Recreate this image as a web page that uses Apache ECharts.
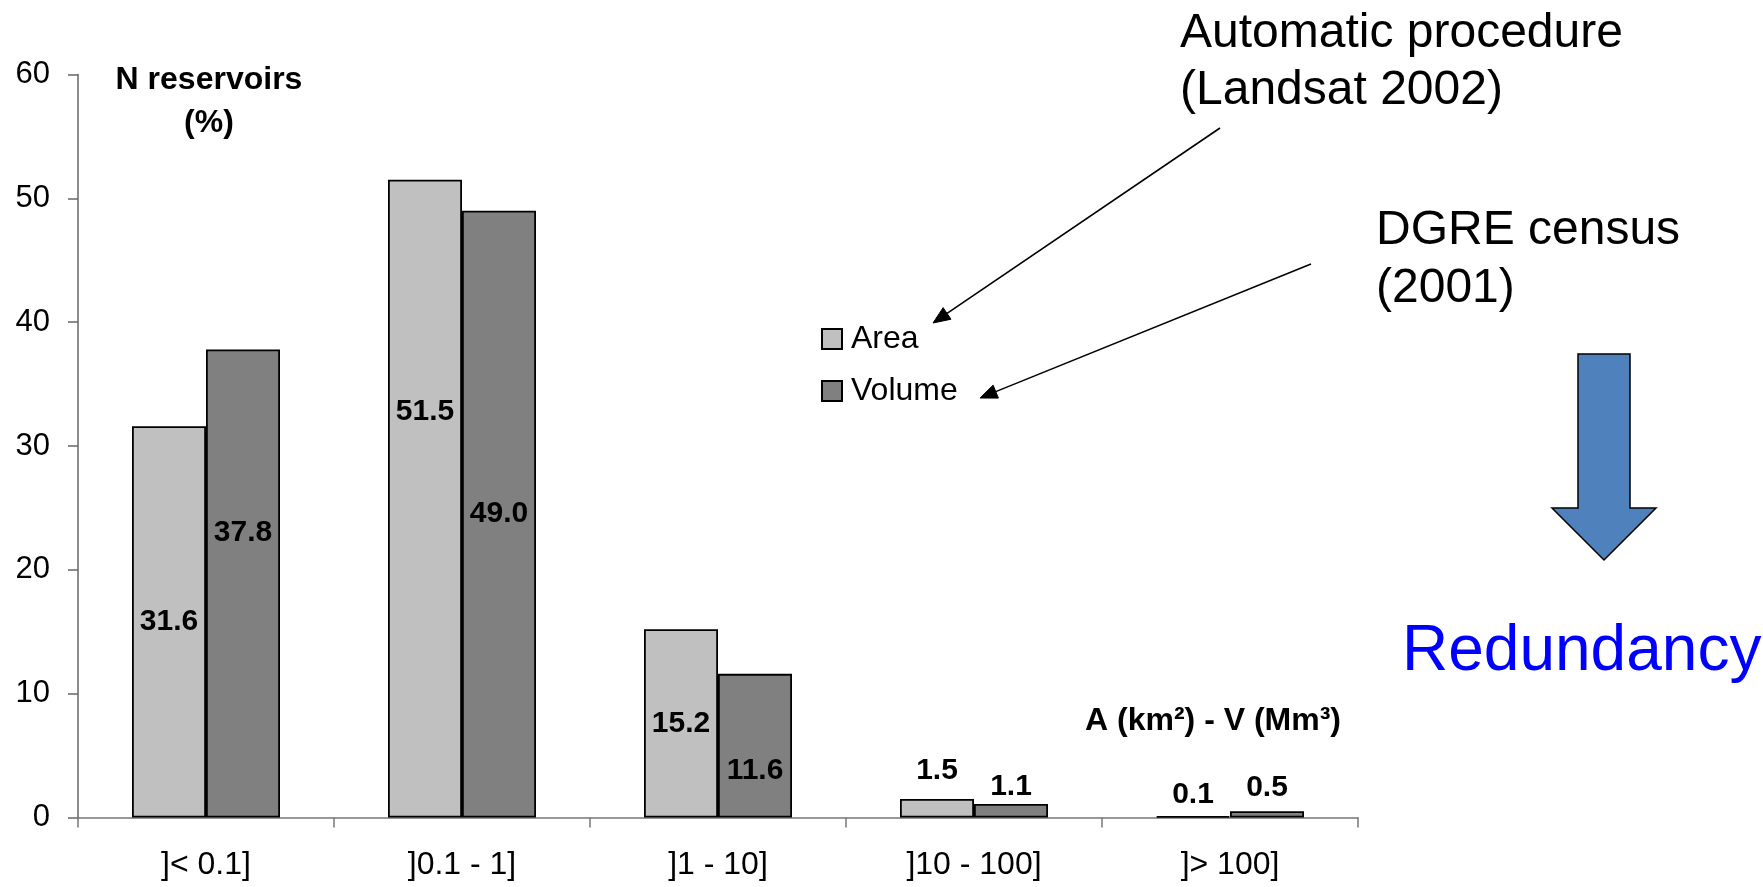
<!DOCTYPE html>
<html>
<head>
<meta charset="utf-8">
<script src="https://cdn.jsdelivr.net/npm/echarts@6/dist/echarts.min.js"></script>
<style>
  html, body { margin: 0; padding: 0; background: #fff; }
  #chart { width: 1763px; height: 887px; }
</style>
</head>
<body>
<div id="chart"></div>
<script>
// ---- data ----
const categories = [']< 0.1]', ']0.1 - 1]', ']1 - 10]', ']10 - 100]', ']> 100]'];
const areaValues = [31.6, 51.5, 15.2, 1.5, 0.1];
const volumeValues = [37.8, 49.0, 11.6, 1.1, 0.5];
const seriesNames = ['Area', 'Volume'];
const yMin = 0, yMax = 60, yStep = 10;

// ---- label placement (style only) ----
const areaLabelPlace = [
  { position: 'inside', offset: [0, 0] },
  { position: 'inside', offset: [0, -87] },
  { position: 'inside', offset: [0, 0] },
  { position: 'top', distance: 13 },
  { position: 'top', distance: 6 }
];
const volumeLabelPlace = [
  { position: 'inside', offset: [0, -51] },
  { position: 'inside', offset: [0, 0] },
  { position: 'inside', offset: [0, 25] },
  { position: 'top', distance: 2 },
  { position: 'top', distance: 9 }
];

const FONT = "'Liberation Sans', Arial, Helvetica, sans-serif";

function buildData(values, places) {
  return values.map((v, i) => ({ value: v, label: places[i] }));
}

function arrowGraphics(x1, y1, x2, y2, headLen, headHalf) {
  const dx = x2 - x1, dy = y2 - y1;
  const len = Math.sqrt(dx * dx + dy * dy);
  const ux = dx / len, uy = dy / len;
  const bx = x2 - ux * headLen, by = y2 - uy * headLen;
  const nx = -uy, ny = ux;
  return [
    { type: 'line', shape: { x1: x1, y1: y1, x2: bx, y2: by }, style: { stroke: '#000', lineWidth: 1.6 } },
    { type: 'polygon', shape: { points: [[x2, y2], [bx + nx * headHalf, by + ny * headHalf], [bx - nx * headHalf, by - ny * headHalf]] },
      style: { fill: '#000', stroke: '#000', lineWidth: 1 } }
  ];
}

const labelStyle = { show: true, color: '#000', fontFamily: FONT, fontWeight: 'bold', fontSize: 30, lineHeight: 30,
  formatter: p => Number(p.value).toFixed(1) };

const chart = echarts.init(document.getElementById('chart'), null, { renderer: 'canvas' });

const graphics = [
  { type: 'text', x: 209, y: 80, style: { text: 'N reservoirs', font: 'bold 32px ' + FONT, fill: '#000', textAlign: 'center', textVerticalAlign: 'middle' } },
  { type: 'text', x: 209, y: 123, style: { text: '(%)', font: 'bold 32px ' + FONT, fill: '#000', textAlign: 'center', textVerticalAlign: 'middle' } },
  { type: 'text', x: 1341, y: 721, style: { text: 'A (km²) - V (Mm³)', font: 'bold 32px ' + FONT, fill: '#000', textAlign: 'right', textVerticalAlign: 'middle' } },
  { type: 'text', x: 1180, y: 34, style: { text: 'Automatic procedure', font: '48px ' + FONT, fill: '#000', textAlign: 'left', textVerticalAlign: 'middle' } },
  { type: 'text', x: 1180, y: 91, style: { text: '(Landsat 2002)', font: '48px ' + FONT, fill: '#000', textAlign: 'left', textVerticalAlign: 'middle' } },
  { type: 'text', x: 1376, y: 231, style: { text: 'DGRE census', font: '48px ' + FONT, fill: '#000', textAlign: 'left', textVerticalAlign: 'middle' } },
  { type: 'text', x: 1376, y: 289, style: { text: '(2001)', font: '48px ' + FONT, fill: '#000', textAlign: 'left', textVerticalAlign: 'middle' } },
  { type: 'text', x: 1402, y: 652, style: { text: 'Redundancy', font: '64px ' + FONT, fill: '#0000ff', textAlign: 'left', textVerticalAlign: 'middle' } },
  { type: 'polygon', shape: { points: [[1578, 354], [1630, 354], [1630, 508], [1656, 508], [1604, 560], [1552, 508], [1578, 508]] },
    style: { fill: '#4f81bd', stroke: '#000', lineWidth: 1.5 } }
].concat(arrowGraphics(1220, 128, 933, 323, 17, 7))
 .concat(arrowGraphics(1311, 264, 980, 398, 17, 7));

const option = {
  animation: false,
  backgroundColor: '#ffffff',
  grid: { left: 78, right: 405, top: 74.5, bottom: 69.5, containLabel: false },
  legend: {
    data: seriesNames,
    orient: 'vertical',
    left: 821, top: 323,
    padding: 0,
    itemWidth: 20, itemHeight: 20, itemGap: 20,
    icon: 'rect',
    selectedMode: false,
    textStyle: { color: '#000', fontFamily: FONT, fontSize: 32, padding: [0, 0, 0, 4] }
  },
  xAxis: {
    type: 'category',
    data: categories,
    axisLine: { lineStyle: { color: '#777', width: 1.5 } },
    axisTick: { show: true, length: 10, inside: false, lineStyle: { color: '#777', width: 1.5 } },
    axisLabel: { color: '#000', fontFamily: FONT, fontSize: 32, margin: 32, interval: 0 },
    splitLine: { show: false }
  },
  yAxis: {
    type: 'value',
    min: yMin, max: yMax, interval: yStep,
    axisLine: { show: true, lineStyle: { color: '#666', width: 1.5 } },
    axisTick: { show: true, length: 10, lineStyle: { color: '#666', width: 1.5 } },
    axisLabel: { color: '#000', fontFamily: FONT, fontSize: 31, margin: 28 },
    splitLine: { show: false }
  },
  series: [
    {
      name: seriesNames[0], type: 'bar', barWidth: 74, barGap: '0%',
      itemStyle: { color: '#c0c0c0', borderColor: '#000', borderWidth: 1.8 },
      label: labelStyle,
      data: buildData(areaValues, areaLabelPlace)
    },
    {
      name: seriesNames[1], type: 'bar', barWidth: 74, barGap: '0%',
      itemStyle: { color: '#808080', borderColor: '#000', borderWidth: 1.8 },
      label: labelStyle,
      data: buildData(volumeValues, volumeLabelPlace)
    }
  ],
  graphic: graphics
};

chart.setOption(option);
</script>
</body>
</html>
